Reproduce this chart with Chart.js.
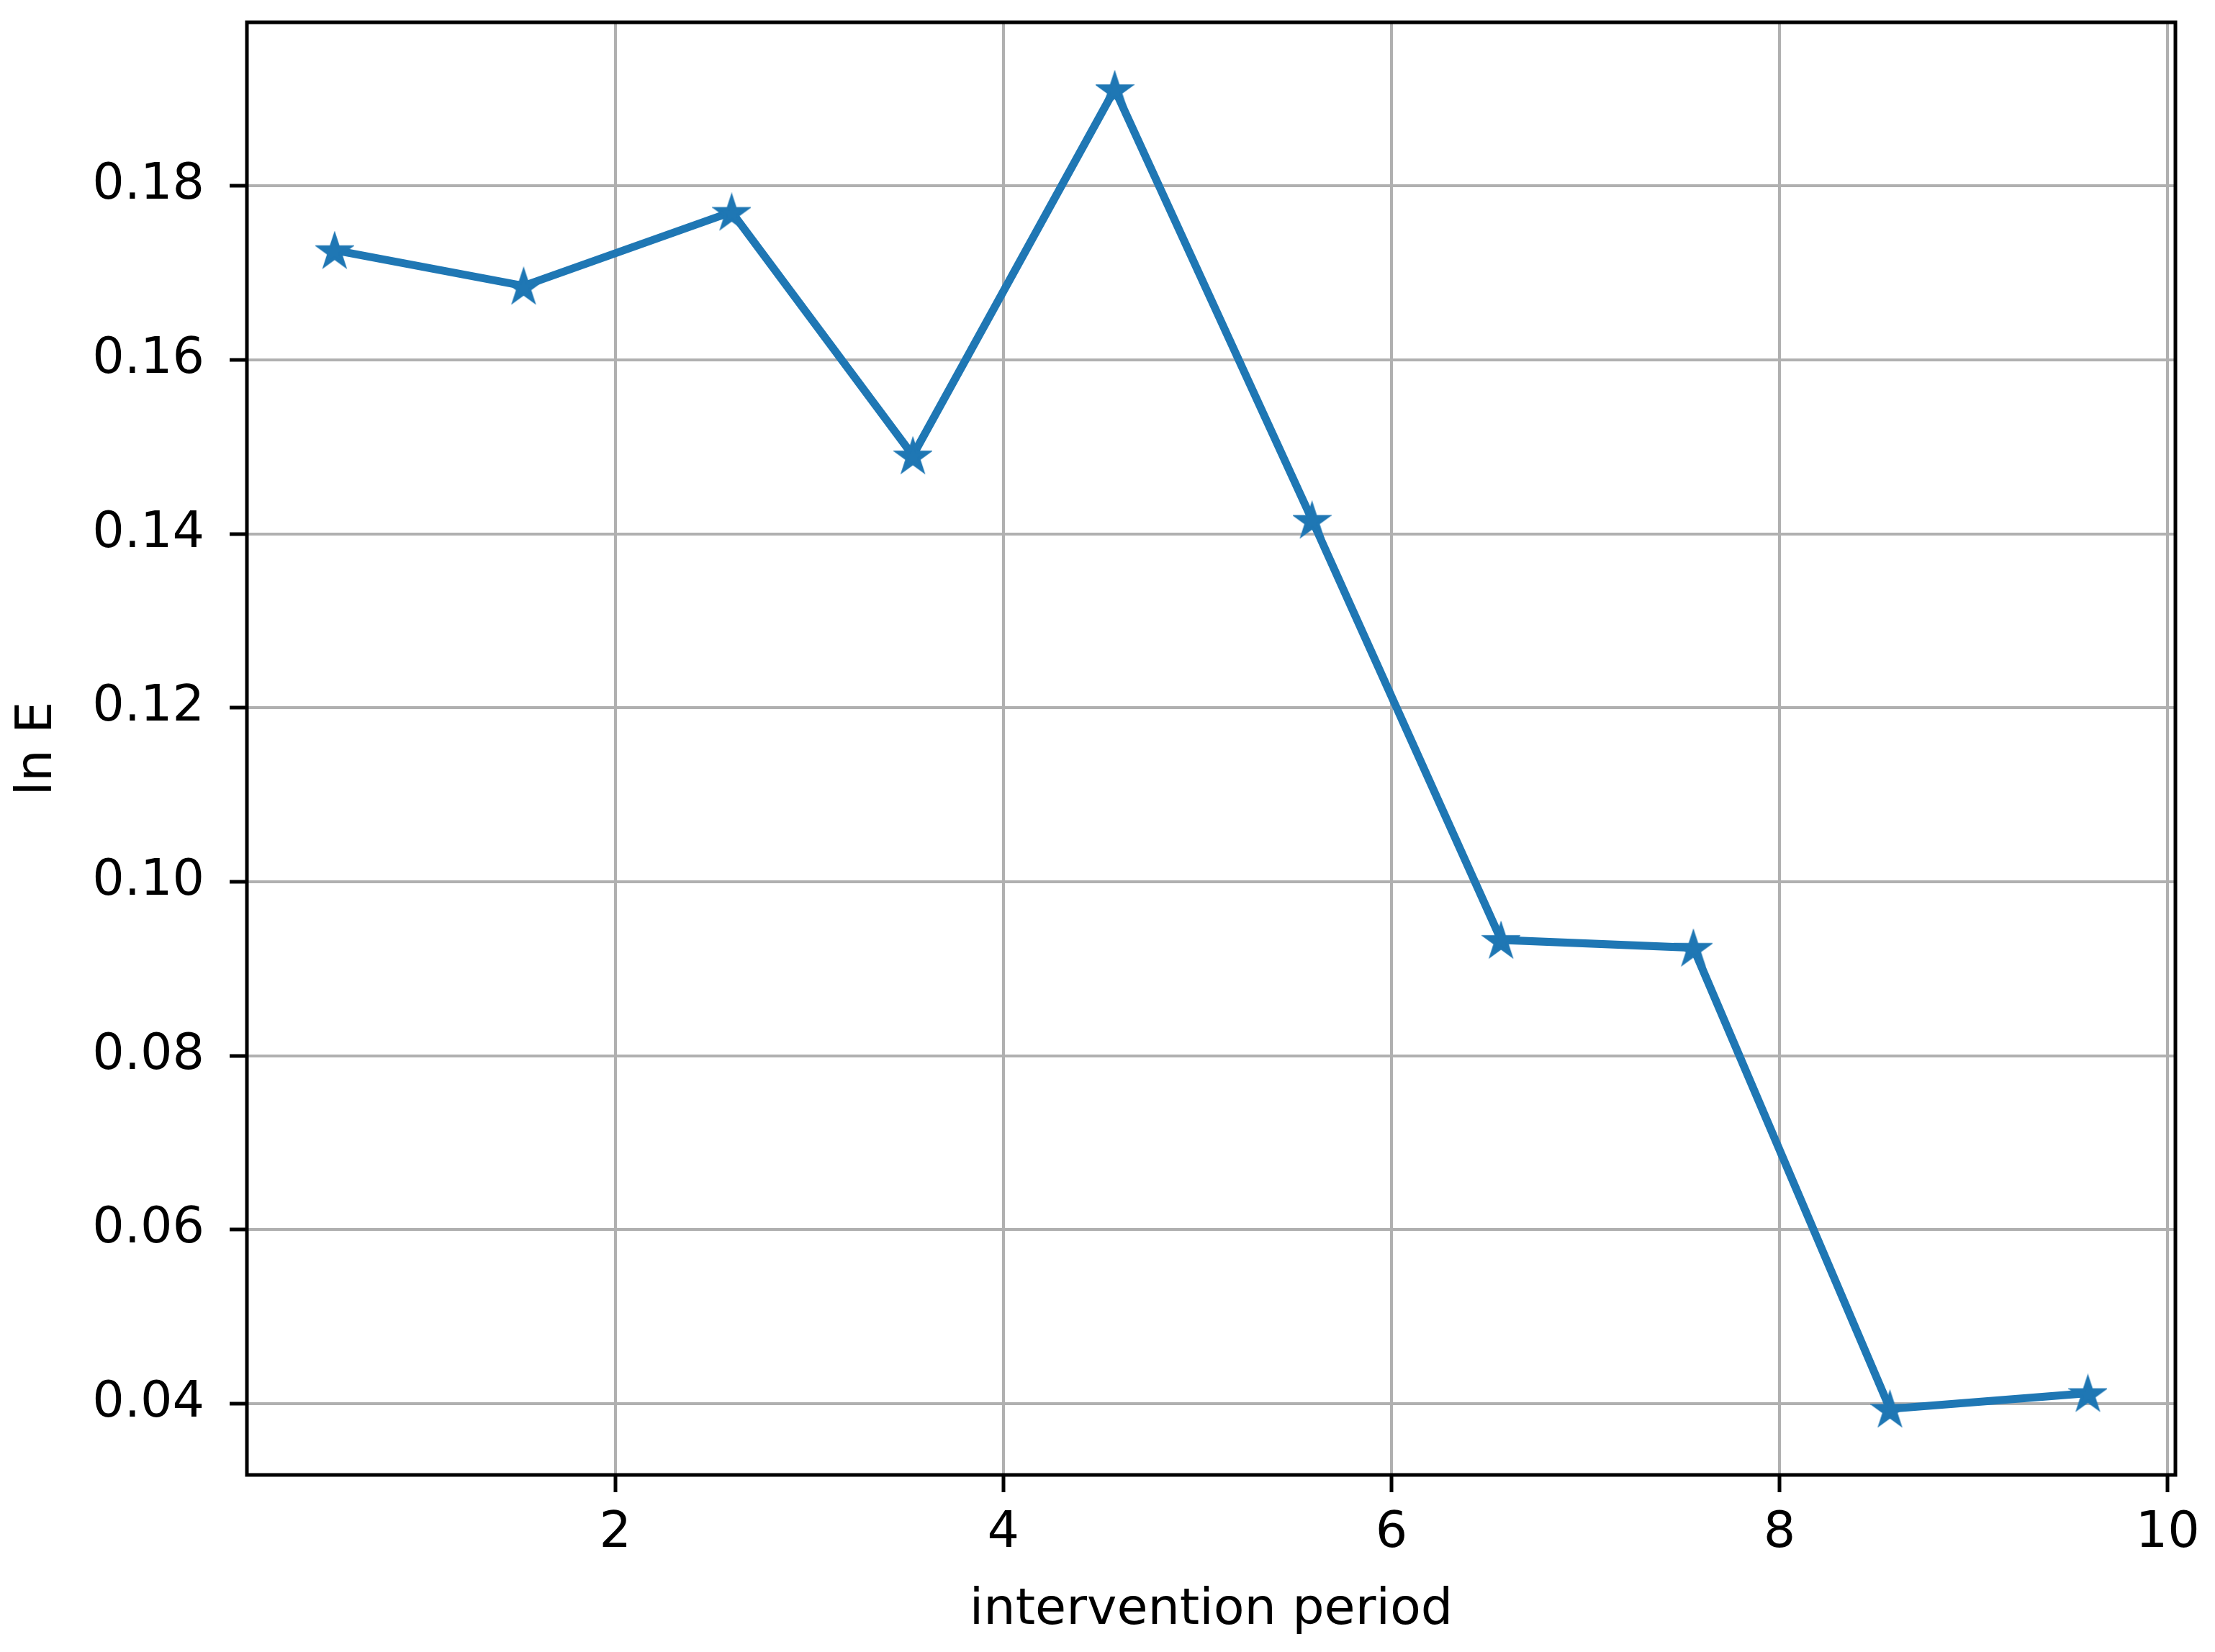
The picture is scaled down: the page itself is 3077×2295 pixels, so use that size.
<!DOCTYPE html>
<html>
<head>
<meta charset="utf-8">
<script src="https://cdn.jsdelivr.net/npm/chart.js@4/dist/chart.umd.min.js"></script>
<style>
  html, body { margin: 0; padding: 0; background: #fff; }
  #wrap { width: 3077px; height: 2295px; position: relative; }
</style>
</head>
<body>
<div id="wrap"><canvas id="chart"></canvas></div>
<script>
// values
const periods = [0.554, 1.528, 2.600, 3.534, 4.574, 5.591, 6.565, 7.556, 8.569, 9.589];
const lnE = [0.1726, 0.1685, 0.1770, 0.1490, 0.1911, 0.1416, 0.0933, 0.0924, 0.0394, 0.0412];
const xTicks = [2, 4, 6, 8, 10];
const yTicks = [0.04, 0.06, 0.08, 0.10, 0.12, 0.14, 0.16, 0.18];

const BLUE = '#1f77b4';
const FONT = { family: 'DejaVu Sans', size: 70 };

// filled five point star, like matplotlib's '*'
function starMarker(r) {
  const pad = 4;
  const c = document.createElement('canvas');
  c.width = c.height = Math.ceil(2 * r + 2 * pad);
  const ctx = c.getContext('2d');
  const cx = c.width / 2, cy = c.height / 2 + r * 0.1;
  ctx.beginPath();
  for (let i = 0; i < 10; i++) {
    const rr = i % 2 ? r * 0.382 : r;
    const a = -Math.PI / 2 + i * Math.PI / 5;
    const px = cx + rr * Math.cos(a), py = cy + rr * Math.sin(a);
    i ? ctx.lineTo(px, py) : ctx.moveTo(px, py);
  }
  ctx.closePath();
  ctx.fillStyle = BLUE;
  ctx.strokeStyle = BLUE;
  ctx.lineWidth = 4;
  ctx.lineJoin = 'miter';
  ctx.fill();
  ctx.stroke();
  return c;
}

const frame = {
  id: 'frame',
  afterDatasetsDraw(chart) {
    const { ctx, chartArea: a } = chart;
    ctx.save();
    ctx.strokeStyle = '#000';
    ctx.lineWidth = 5;
    ctx.strokeRect(a.left, a.top, a.right - a.left, a.bottom - a.top);
    ctx.restore();
  }
};

new Chart(document.getElementById('chart'), {
  type: 'line',
  data: {
    datasets: [{
      data: periods.map((x, i) => ({ x, y: lnE[i] })),
      borderColor: BLUE,
      backgroundColor: BLUE,
      borderWidth: 11,
      tension: 0,
      pointStyle: starMarker(23),
      pointRadius: 20,
    }],
  },
  options: {
    responsive: true,
    maintainAspectRatio: false,
    devicePixelRatio: 1,
    animation: false,
    layout: { padding: { left: 0, top: 20, right: 55, bottom: 0 } },
    plugins: { legend: { display: false }, tooltip: { enabled: false } },
    scales: {
      x: {
        type: 'linear',
        min: 0.102,
        max: 10.04,
        afterBuildTicks: s => { s.ticks = xTicks.map(v => ({ value: v })); },
        afterFit: s => { s.height = 246; s.paddingLeft = 0; s.paddingRight = 0; },
        ticks: { color: '#000', font: FONT, padding: 16, maxRotation: 0, callback: v => String(v) },
        grid: { color: '#b0b0b0', lineWidth: 4, tickColor: '#000', tickWidth: 5, tickLength: 24 },
        border: { display: false },
        title: { display: true, text: 'intervention period', color: '#000', font: FONT, padding: { top: 0, bottom: 15 } },
      },
      y: {
        min: 0.0318,
        max: 0.1988,
        afterBuildTicks: s => { s.ticks = yTicks.map(v => ({ value: v })); },
        afterFit: s => { s.width = 343; s.paddingTop = 0; s.paddingBottom = 0; },
        ticks: { color: '#000', font: FONT, padding: 35, callback: v => v.toFixed(2) },
        grid: { color: '#b0b0b0', lineWidth: 4, tickColor: '#000', tickWidth: 5, tickLength: 24 },
        border: { display: false },
        title: { display: true, text: 'ln E', color: '#000', font: FONT, padding: { top: 11, bottom: 0 } },
      },
    },
  },
  plugins: [frame],
});
</script>
</body>
</html>
